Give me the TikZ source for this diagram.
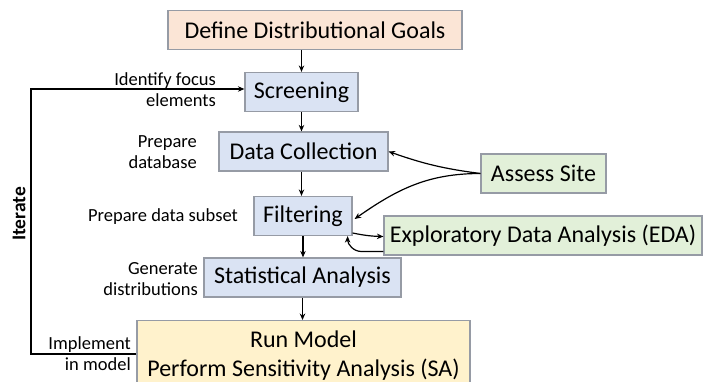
\documentclass[tikz,border=0pt]{standalone}
\usepackage{fontspec}
\setmainfont{Carlito}
\usetikzlibrary{arrows.meta}

\definecolor{goalfill}{RGB}{251,229,214}
\definecolor{stepfill}{RGB}{218,227,243}
\definecolor{sitefill}{RGB}{226,240,217}
\definecolor{runfill}{RGB}{255,242,204}
\definecolor{boxline}{RGB}{150,155,165}

\tikzset{
  box/.style={draw=boxline,line width=1.2pt,minimum height=39pt,inner sep=2pt,
    font=\fontsize{24}{28}\selectfont},
  lbl/.style={anchor=east,align=right,inner sep=0pt,font=\fontsize{18.5}{21}\selectfont},
  arr/.style={line width=1.2pt,-{Stealth[length=6.5pt,width=5.5pt]}}
}

\begin{document}
\begin{tikzpicture}[x=1pt,y=-1pt]
\useasboundingbox (0,0) rectangle (704,381);

\node[box,fill=goalfill,minimum width=294pt] (goals) at (315,30) {Define Distributional Goals};
\node[box,fill=stepfill,minimum width=113pt] (screen) at (301.5,92) {Screening};
\node[box,fill=stepfill,minimum width=169pt] (collect) at (303.5,151.5) {Data Collection};
\node[box,fill=stepfill,minimum width=98pt] (filter) at (303,216) {Filtering};
\node[box,fill=stepfill,minimum width=197pt] (stats) at (302.5,277.5) {Statistical Analysis};
\node[box,fill=runfill,minimum width=333pt,anchor=north,align=center,inner ysep=10pt,
  font=\fontsize{24}{29}\selectfont] (run) at (303.5,320) {Run Model\\Perform Sensitivity Analysis (SA)};
\node[box,fill=sitefill,minimum width=125pt] (site) at (543.5,173.5) {Assess Site};
\node[box,fill=sitefill,minimum width=318pt] (eda) at (543,235.5) {Exploratory Data Analysis (EDA)};

% side labels
\node[lbl] (l1) at (216,89.5) {Identify focus\\elements};
\node[lbl] (l2) at (197,152) {Prepare\\database};
\node[lbl] (l3) at (238,217) {Prepare data subset};
\node[lbl] (l4) at (198,279) {Generate\\distributions};
\node[lbl] (l5) at (131,354) {Implement\\in model};
\node[rotate=90,font=\fontsize{19.5}{22}\selectfont\bfseries] (iter) at (19,214) {Iterate};

% main chain
\draw[arr] (goals.south -| screen) -- (screen);
\draw[arr] (screen) -- (screen |- collect.north);
\draw[arr] (screen |- collect.south) -- (screen |- filter.north);
\draw[arr] (filter) -- (filter |- stats.north);
\draw[arr] (stats) -- (stats |- run.north);

% iterate loop
\coordinate (itop) at (31,89);
\coordinate (ibot) at (31,354);
\draw[arr] (ibot -| run.west) -- (ibot) -- (itop) -- (itop -| screen.west);

% site and EDA
\draw[arr] (site.west) to[bend left=6] (collect.east);
\draw[arr] (site.west) to[out=180,in=35] ([xshift=2pt,yshift=-3pt]filter.east);
\draw[arr] ([yshift=-17pt]filter.east) to[bend right=5] ([yshift=-1pt]eda.west);
\draw[arr] ([yshift=-16pt]eda.west) -- ++(-22,0) to[out=180,in=-90] ([xshift=-5pt]filter.south east);
\end{tikzpicture}
\end{document}
